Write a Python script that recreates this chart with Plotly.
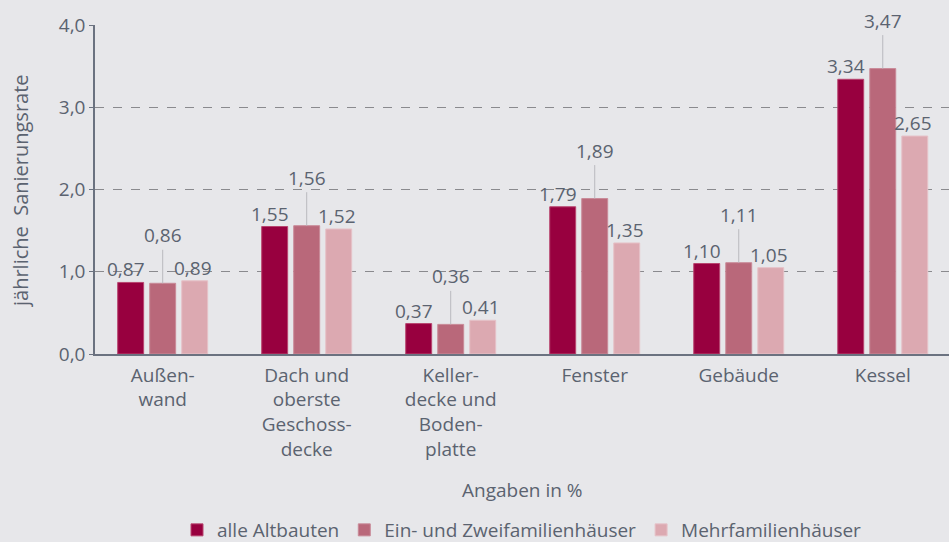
import plotly.graph_objects as go

categories = ["Außen-<br>wand", "Dach und<br>oberste<br>Geschoss-<br>decke",
              "Keller-<br>decke und<br>Boden-<br>platte", "Fenster", "Gebäude", "Kessel"]
series_names = ["alle Altbauten", "Ein- und Zweifamilienhäuser", "Mehrfamilienhäuser"]
alle = [0.87, 1.55, 0.37, 1.79, 1.10, 3.34]
ezfh = [0.86, 1.56, 0.36, 1.89, 1.11, 3.47]
mfh = [0.89, 1.52, 0.41, 1.35, 1.05, 2.65]
y_ticks = [0, 1, 2, 3, 4]
y_ticklabels = ["0,0", "1,0", "2,0", "3,0", "4,0"]

colors = ["#98003f", "#b9687a", "#dca9b1"]
borders = ["#b8456f", "#c98a98", "#e6c2c8"]
txt = "#5b6370"
FONT = "Open Sans"
FS = 19
PLOT_TOP, PLOT_BOTTOM = 25, 354
PH = PLOT_BOTTOM - PLOT_TOP

fig = go.Figure()
for name, vals, c, b in zip(series_names, [alle, ezfh, mfh], colors, borders):
    fig.add_trace(go.Bar(x=list(range(len(categories))), y=vals, name=name,
                         marker=dict(color=c, line=dict(color=b, width=1)),
                         hoverinfo="skip"))

def fmt(v):
    return f"{v:.2f}".replace(".", ",")

slot = 0.2222
anns = []
for i in range(len(categories)):
    anns.append(dict(x=i - slot, y=alle[i], xref="x", yref="y", text=fmt(alle[i]),
                     showarrow=False, yanchor="bottom", yshift=-2, xshift=-5,
                     font=dict(size=FS, color=txt, family=FONT)))
    anns.append(dict(x=i, y=ezfh[i], xref="x", yref="y", text=fmt(ezfh[i]),
                     showarrow=True, arrowhead=0, arrowwidth=1, arrowcolor="#b9b9be",
                     ax=0, ay=-48, standoff=0,
                     font=dict(size=FS, color=txt, family=FONT)))
    anns.append(dict(x=i + slot, y=mfh[i], xref="x", yref="y", text=fmt(mfh[i]),
                     showarrow=False, yanchor="bottom", yshift=-2, xshift=-2,
                     font=dict(size=FS, color=txt, family=FONT)))

anns.append(dict(x=0.5, y=(PLOT_BOTTOM - 490) / PH, xref="paper", yref="paper",
                 text="Angaben in %", showarrow=False, xanchor="center", yanchor="middle",
                 font=dict(size=FS, color=txt, family=FONT)))
anns.append(dict(x=(20 - 95) / 854, y=(PLOT_BOTTOM - 191) / PH, xref="paper", yref="paper",
                 text="jährliche  Sanierungsrate", textangle=-90, showarrow=False,
                 xanchor="center", yanchor="middle",
                 font=dict(size=20, color=txt, family=FONT)))

fig.update_layout(
    width=949, height=542,
    margin=dict(l=95, r=0, t=PLOT_TOP, b=542 - PLOT_BOTTOM, autoexpand=False),
    paper_bgcolor="#e7e7ea", plot_bgcolor="#e7e7ea",
    barmode="group", bargap=0.333, bargroupgap=0.19,
    font=dict(family=FONT, size=FS, color=txt),
    showlegend=True,
    legend=dict(orientation="h", x=0.5, xanchor="center", yref="container",
                y=1 - 530 / 542, yanchor="middle",
                font=dict(size=FS, color=txt, family=FONT),
                itemwidth=30, traceorder="normal"),
    annotations=anns,
    xaxis=dict(tickmode="array", tickvals=list(range(len(categories))), ticktext=categories,
               range=[-0.47, 5.46], showgrid=False, zeroline=False,
               showline=True, linecolor="#6b7280", linewidth=1.5,
               ticks="", ticklabelstandoff=3,
               tickfont=dict(size=FS, color=txt, family=FONT)),
    yaxis=dict(range=[0, 4], tickvals=y_ticks, ticktext=y_ticklabels,
               showgrid=True, gridcolor="#8a8a8e", griddash="dash", gridwidth=1,
               zeroline=False, showline=True, linecolor="#6b7280", linewidth=1.5,
               ticks="outside", ticklen=4, tickcolor="#6b7280",
               tickfont=dict(size=FS, color=txt, family=FONT)),
)

fig.write_html("out.html", config={"displayModeBar": False})
with open("out.html", "r", encoding="utf-8") as f:
    html = f.read()
html = html.replace("<head>", "<head><style>html,body{margin:0;padding:0;background:#e7e7ea;}</style>", 1)
with open("out.html", "w", encoding="utf-8") as f:
    f.write(html)
